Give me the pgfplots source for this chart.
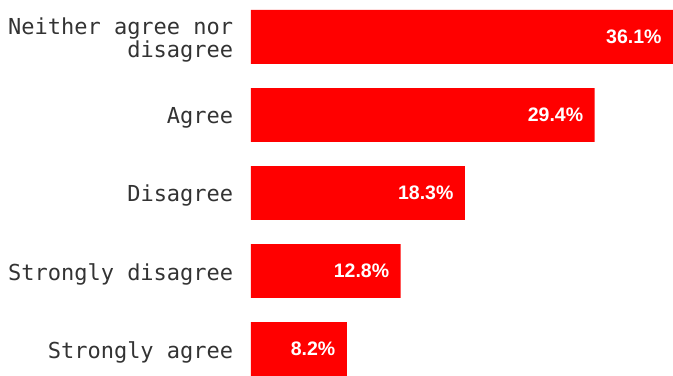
\documentclass[border=0pt]{standalone}
\usepackage{pgfplots}
\pgfplotsset{compat=1.18}
\usepackage{fontspec}
\setmainfont{Liberation Sans}
\newfontfamily\monofont{DejaVu Sans Mono}
\newfontfamily\boldfont{Liberation Sans}
\definecolor{barred}{HTML}{FF0000}
\definecolor{labgray}{HTML}{333333}
\begin{document}
\begin{tikzpicture}
\path[use as bounding box] (-251bp,0) rectangle (422bp,376bp);
\begin{axis}[
  at={(0,0)}, anchor=south west,
  scale only axis,
  width=422bp, height=366bp,
  xmin=0, xmax=36.1,
  ymin=-0.346, ymax=4.346,
  xbar, bar width=0.692, bar shift=0pt,
  axis line style={draw=none},
  tick style={draw=none},
  xtick=\empty,
  ytick={0,1,2,3,4},
  yticklabels={Strongly agree,Strongly disagree,Disagree,Agree,{Neither agree nor\\disagree}},
  yticklabel style={font=\monofont\fontsize{22bp}{23bp}\selectfont, text=labgray, align=right, xshift=-10bp, yshift=-3bp},
  /pgf/number format/assume math mode=true,
  nodes near coords={\pgfmathprintnumber[fixed,precision=1,fixed zerofill,assume math mode=true]{\pgfplotspointmeta}\%},
  point meta=x,
  every node near coord/.append style={anchor=east, xshift=-8bp, text=white, font=\boldfont\bfseries\fontsize{19.5bp}{22bp}\selectfont},
  clip=false,
]
\addplot[fill=barred, draw=none] coordinates {(8.2,0) (12.8,1) (18.3,2) (29.4,3) (36.1,4)};
\end{axis}
\end{tikzpicture}
\end{document}
